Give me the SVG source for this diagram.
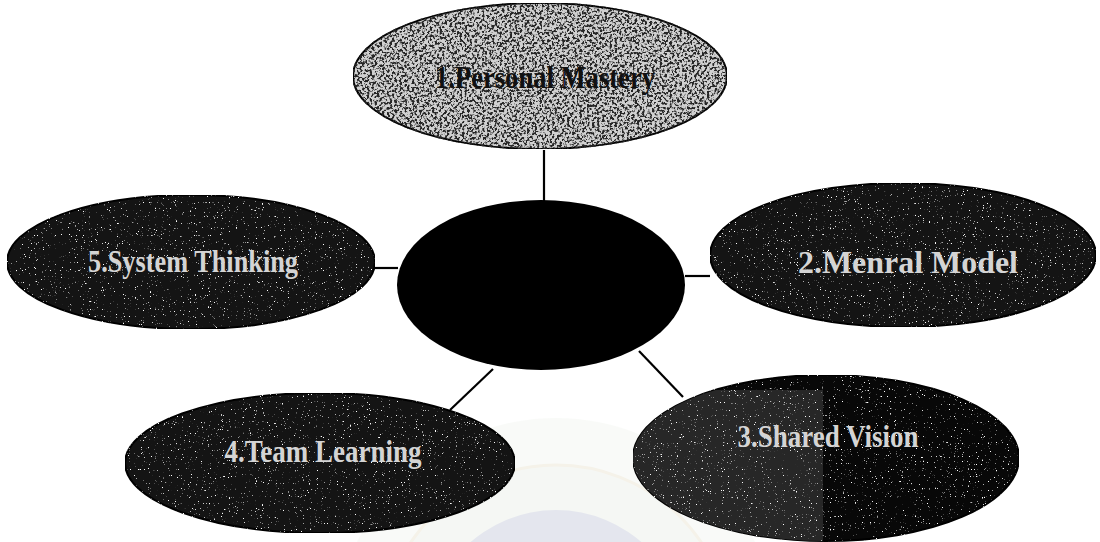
<svg xmlns="http://www.w3.org/2000/svg" width="1100" height="542" viewBox="0 0 1100 542">
  <style>
    .edge { stroke: #000; stroke-width: 2.2; fill: none; }
    .outline { stroke: #000; stroke-width: 2; }
    .dark { fill: #141414; }
    .light { fill: #d0d0d0; }
    .lbl { font-family: "Liberation Serif", "Times New Roman", serif; font-size: 31px; font-weight: bold; text-anchor: middle; }
    .lbl-dark { fill: #d4d4d4; }
    .lbl-light { fill: #111; }
  </style>
  <defs>
    <filter id="speckW" x="0" y="0" width="1" height="1" color-interpolation-filters="sRGB">
      <feTurbulence type="fractalNoise" baseFrequency="0.85" numOctaves="2" seed="4" result="n"/>
      <feColorMatrix in="n" type="matrix" values="0 0 0 0 1  0 0 0 0 1  0 0 0 0 1  10 0 0 0 -6.9" result="dots"/>
      <feComposite in="dots" in2="SourceGraphic" operator="in" result="d2"/>
      <feMerge><feMergeNode in="SourceGraphic"/><feMergeNode in="d2"/></feMerge>
    </filter>
    <filter id="speckB" x="0" y="0" width="1" height="1" color-interpolation-filters="sRGB">
      <feTurbulence type="fractalNoise" baseFrequency="0.4" numOctaves="4" seed="9" result="n"/>
      <feColorMatrix in="n" type="matrix" values="0 0 0 0 0.15  0 0 0 0 0.15  0 0 0 0 0.15  7 0 0 0 -3.3" result="dots"/>
      <feComposite in="dots" in2="SourceGraphic" operator="in" result="d2"/>
      <feMerge><feMergeNode in="SourceGraphic"/><feMergeNode in="d2"/></feMerge>
    </filter>
    <clipPath id="clip3"><ellipse cx="826" cy="458" rx="193" ry="83"/></clipPath>
  </defs>

  <rect width="1100" height="542" fill="#ffffff"/>

  <!-- faint watermark -->
  <g id="watermark" opacity="0.18">
    <circle cx="556" cy="640" r="222" fill="#dfe8da"/>
    <circle cx="556" cy="640" r="175" fill="#cbd7c7" stroke="#c9b98a" stroke-width="3"/>
    <circle cx="556" cy="640" r="130" fill="#6f7ca3"/>
  </g>

  <g id="connectors">
    <line class="edge" x1="544" y1="150" x2="544" y2="201"/>
    <line class="edge" x1="375" y1="268" x2="398" y2="268"/>
    <line class="edge" x1="685" y1="276" x2="710" y2="276"/>
    <line class="edge" x1="493" y1="369" x2="450" y2="410"/>
    <line class="edge" x1="639" y1="351" x2="683" y2="397"/>
  </g>

  <g id="center">
    <ellipse cx="541" cy="285" rx="144" ry="85" fill="#000"/>
  </g>

  <g id="n1">
    <ellipse class="light outline" cx="540" cy="76" rx="187" ry="73" filter="url(#speckB)"/>
    <text class="lbl lbl-light" x="545" y="88" textLength="220" lengthAdjust="spacingAndGlyphs">1.Personal Mastery</text>
  </g>

  <g id="n2">
    <ellipse class="dark outline" cx="903" cy="255" rx="193" ry="72" filter="url(#speckW)"/>
    <text class="lbl lbl-dark" x="908" y="273" textLength="220" lengthAdjust="spacingAndGlyphs">2.Menral Model</text>
  </g>

  <g id="n3">
    <g filter="url(#speckW)">
      <ellipse class="outline" cx="826" cy="458" rx="193" ry="83" fill="#080808"/>
      <rect x="633" y="390" width="190" height="152" fill="#272727" clip-path="url(#clip3)"/>
    </g>
    <text class="lbl lbl-dark" x="828" y="447" textLength="181" lengthAdjust="spacingAndGlyphs">3.Shared Vision</text>
  </g>

  <g id="n4">
    <ellipse class="dark outline" cx="320" cy="463" rx="195" ry="70" filter="url(#speckW)"/>
    <text class="lbl lbl-dark" x="323" y="462" textLength="197" lengthAdjust="spacingAndGlyphs">4.Team Learning</text>
  </g>

  <g id="n5">
    <ellipse class="dark outline" cx="191" cy="262" rx="184" ry="67" filter="url(#speckW)"/>
    <text class="lbl lbl-dark" x="193" y="272" textLength="210" lengthAdjust="spacingAndGlyphs">5.System Thinking</text>
  </g>
</svg>
